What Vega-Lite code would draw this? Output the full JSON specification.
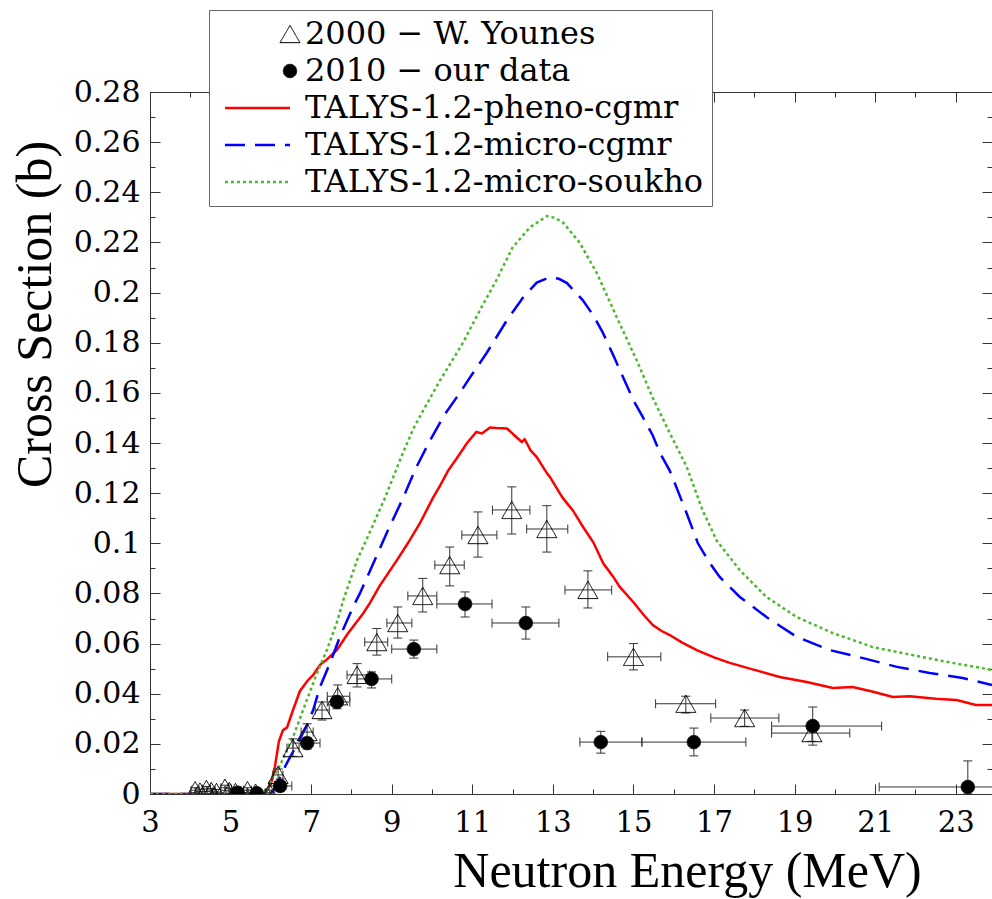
{
  "$schema": "https://vega.github.io/schema/vega-lite/v6.json",
  "width": 842,
  "height": 702,
  "autosize": {"type": "none"},
  "padding": {"left": 150, "top": 92, "right": 0, "bottom": 105},
  "config": {
    "font": "Liberation Serif",
    "view": {"stroke": null},
    "axis": {"domainColor": "#333", "tickColor": "#333", "tickWidth": 1, "grid": false, "labelColor": "black", "titleColor": "black", "titleFont": "Liberation Serif", "titleFontWeight": "normal"},
    "legend": {
      "orient": "none", "legendX": 59, "legendY": -82, "padding": 8,
      "strokeColor": "#666", "fillColor": "white",
      "labelFont": "DejaVu Serif", "labelFontSize": 32, "labelColor": "black",
      "labelLimit": 700, "rowPadding": 5, "labelOffset": -1, "symbolOffset": 57, "zindex": 5
    }
  },
  "datasets": {
    "curves": [
      {"s": "TALYS-1.2-pheno-cgmr", "E": 3.0, "xs": 0},
      {"s": "TALYS-1.2-pheno-cgmr", "E": 5.85, "xs": 0},
      {"s": "TALYS-1.2-pheno-cgmr", "E": 6.0, "xs": 0.004},
      {"s": "TALYS-1.2-pheno-cgmr", "E": 6.1, "xs": 0.0108},
      {"s": "TALYS-1.2-pheno-cgmr", "E": 6.2, "xs": 0.021},
      {"s": "TALYS-1.2-pheno-cgmr", "E": 6.3, "xs": 0.0255},
      {"s": "TALYS-1.2-pheno-cgmr", "E": 6.4, "xs": 0.0265},
      {"s": "TALYS-1.2-pheno-cgmr", "E": 6.55, "xs": 0.0335},
      {"s": "TALYS-1.2-pheno-cgmr", "E": 6.72, "xs": 0.041},
      {"s": "TALYS-1.2-pheno-cgmr", "E": 6.9, "xs": 0.045},
      {"s": "TALYS-1.2-pheno-cgmr", "E": 7.05, "xs": 0.0475},
      {"s": "TALYS-1.2-pheno-cgmr", "E": 7.22, "xs": 0.0515},
      {"s": "TALYS-1.2-pheno-cgmr", "E": 7.38, "xs": 0.0535},
      {"s": "TALYS-1.2-pheno-cgmr", "E": 7.64, "xs": 0.0575},
      {"s": "TALYS-1.2-pheno-cgmr", "E": 7.89, "xs": 0.0635},
      {"s": "TALYS-1.2-pheno-cgmr", "E": 8.1, "xs": 0.068},
      {"s": "TALYS-1.2-pheno-cgmr", "E": 8.29, "xs": 0.072},
      {"s": "TALYS-1.2-pheno-cgmr", "E": 8.46, "xs": 0.0762},
      {"s": "TALYS-1.2-pheno-cgmr", "E": 8.7, "xs": 0.083},
      {"s": "TALYS-1.2-pheno-cgmr", "E": 9.13, "xs": 0.0933},
      {"s": "TALYS-1.2-pheno-cgmr", "E": 9.4, "xs": 0.1},
      {"s": "TALYS-1.2-pheno-cgmr", "E": 9.7, "xs": 0.108},
      {"s": "TALYS-1.2-pheno-cgmr", "E": 10.02, "xs": 0.118},
      {"s": "TALYS-1.2-pheno-cgmr", "E": 10.2, "xs": 0.123},
      {"s": "TALYS-1.2-pheno-cgmr", "E": 10.4, "xs": 0.129},
      {"s": "TALYS-1.2-pheno-cgmr", "E": 10.62, "xs": 0.134},
      {"s": "TALYS-1.2-pheno-cgmr", "E": 10.87, "xs": 0.14},
      {"s": "TALYS-1.2-pheno-cgmr", "E": 11.1, "xs": 0.1444},
      {"s": "TALYS-1.2-pheno-cgmr", "E": 11.24, "xs": 0.1438},
      {"s": "TALYS-1.2-pheno-cgmr", "E": 11.44, "xs": 0.1462},
      {"s": "TALYS-1.2-pheno-cgmr", "E": 11.6, "xs": 0.146},
      {"s": "TALYS-1.2-pheno-cgmr", "E": 11.86, "xs": 0.1458},
      {"s": "TALYS-1.2-pheno-cgmr", "E": 12.05, "xs": 0.143},
      {"s": "TALYS-1.2-pheno-cgmr", "E": 12.23, "xs": 0.1404},
      {"s": "TALYS-1.2-pheno-cgmr", "E": 12.3, "xs": 0.1415},
      {"s": "TALYS-1.2-pheno-cgmr", "E": 12.45, "xs": 0.137},
      {"s": "TALYS-1.2-pheno-cgmr", "E": 12.6, "xs": 0.1344},
      {"s": "TALYS-1.2-pheno-cgmr", "E": 12.85, "xs": 0.128},
      {"s": "TALYS-1.2-pheno-cgmr", "E": 12.93, "xs": 0.1264},
      {"s": "TALYS-1.2-pheno-cgmr", "E": 13.17, "xs": 0.12},
      {"s": "TALYS-1.2-pheno-cgmr", "E": 13.25, "xs": 0.118},
      {"s": "TALYS-1.2-pheno-cgmr", "E": 13.5, "xs": 0.113},
      {"s": "TALYS-1.2-pheno-cgmr", "E": 13.75, "xs": 0.1065},
      {"s": "TALYS-1.2-pheno-cgmr", "E": 14.0, "xs": 0.1005},
      {"s": "TALYS-1.2-pheno-cgmr", "E": 14.25, "xs": 0.092},
      {"s": "TALYS-1.2-pheno-cgmr", "E": 14.5, "xs": 0.0866},
      {"s": "TALYS-1.2-pheno-cgmr", "E": 14.66, "xs": 0.0826},
      {"s": "TALYS-1.2-pheno-cgmr", "E": 15.0, "xs": 0.0765},
      {"s": "TALYS-1.2-pheno-cgmr", "E": 15.25, "xs": 0.0715},
      {"s": "TALYS-1.2-pheno-cgmr", "E": 15.48, "xs": 0.0674},
      {"s": "TALYS-1.2-pheno-cgmr", "E": 15.7, "xs": 0.065},
      {"s": "TALYS-1.2-pheno-cgmr", "E": 15.9, "xs": 0.0634},
      {"s": "TALYS-1.2-pheno-cgmr", "E": 16.2, "xs": 0.0605},
      {"s": "TALYS-1.2-pheno-cgmr", "E": 16.57, "xs": 0.0574},
      {"s": "TALYS-1.2-pheno-cgmr", "E": 17.0, "xs": 0.0545},
      {"s": "TALYS-1.2-pheno-cgmr", "E": 17.39, "xs": 0.0523},
      {"s": "TALYS-1.2-pheno-cgmr", "E": 18.0, "xs": 0.0495},
      {"s": "TALYS-1.2-pheno-cgmr", "E": 18.63, "xs": 0.0467},
      {"s": "TALYS-1.2-pheno-cgmr", "E": 19.3, "xs": 0.0447},
      {"s": "TALYS-1.2-pheno-cgmr", "E": 19.95, "xs": 0.0423},
      {"s": "TALYS-1.2-pheno-cgmr", "E": 20.44, "xs": 0.0427},
      {"s": "TALYS-1.2-pheno-cgmr", "E": 20.9, "xs": 0.041},
      {"s": "TALYS-1.2-pheno-cgmr", "E": 21.44, "xs": 0.0387},
      {"s": "TALYS-1.2-pheno-cgmr", "E": 21.86, "xs": 0.039},
      {"s": "TALYS-1.2-pheno-cgmr", "E": 22.5, "xs": 0.038},
      {"s": "TALYS-1.2-pheno-cgmr", "E": 23.02, "xs": 0.0375},
      {"s": "TALYS-1.2-pheno-cgmr", "E": 23.5, "xs": 0.0355},
      {"s": "TALYS-1.2-pheno-cgmr", "E": 23.9, "xs": 0.0355},

      {"s": "TALYS-1.2-micro-cgmr", "E": 3.0, "xs": 0},
      {"s": "TALYS-1.2-micro-cgmr", "E": 5.95, "xs": 0},
      {"s": "TALYS-1.2-micro-cgmr", "E": 6.05, "xs": 0.001},
      {"s": "TALYS-1.2-micro-cgmr", "E": 6.23, "xs": 0.0068},
      {"s": "TALYS-1.2-micro-cgmr", "E": 6.4, "xs": 0.0124},
      {"s": "TALYS-1.2-micro-cgmr", "E": 6.64, "xs": 0.0195},
      {"s": "TALYS-1.2-micro-cgmr", "E": 6.9, "xs": 0.0275},
      {"s": "TALYS-1.2-micro-cgmr", "E": 7.05, "xs": 0.0335},
      {"s": "TALYS-1.2-micro-cgmr", "E": 7.22, "xs": 0.0427},
      {"s": "TALYS-1.2-micro-cgmr", "E": 7.5, "xs": 0.0535},
      {"s": "TALYS-1.2-micro-cgmr", "E": 7.71, "xs": 0.0626},
      {"s": "TALYS-1.2-micro-cgmr", "E": 8.04, "xs": 0.0746},
      {"s": "TALYS-1.2-micro-cgmr", "E": 8.21, "xs": 0.08},
      {"s": "TALYS-1.2-micro-cgmr", "E": 8.58, "xs": 0.0933},
      {"s": "TALYS-1.2-micro-cgmr", "E": 8.9, "xs": 0.105},
      {"s": "TALYS-1.2-micro-cgmr", "E": 9.28, "xs": 0.118},
      {"s": "TALYS-1.2-micro-cgmr", "E": 9.6, "xs": 0.13},
      {"s": "TALYS-1.2-micro-cgmr", "E": 9.95, "xs": 0.141},
      {"s": "TALYS-1.2-micro-cgmr", "E": 10.3, "xs": 0.151},
      {"s": "TALYS-1.2-micro-cgmr", "E": 10.69, "xs": 0.16},
      {"s": "TALYS-1.2-micro-cgmr", "E": 11.0, "xs": 0.1675},
      {"s": "TALYS-1.2-micro-cgmr", "E": 11.36, "xs": 0.176},
      {"s": "TALYS-1.2-micro-cgmr", "E": 11.86, "xs": 0.189},
      {"s": "TALYS-1.2-micro-cgmr", "E": 12.26, "xs": 0.198},
      {"s": "TALYS-1.2-micro-cgmr", "E": 12.6, "xs": 0.204},
      {"s": "TALYS-1.2-micro-cgmr", "E": 12.93, "xs": 0.2062},
      {"s": "TALYS-1.2-micro-cgmr", "E": 13.15, "xs": 0.2055},
      {"s": "TALYS-1.2-micro-cgmr", "E": 13.35, "xs": 0.2038},
      {"s": "TALYS-1.2-micro-cgmr", "E": 13.74, "xs": 0.197},
      {"s": "TALYS-1.2-micro-cgmr", "E": 14.0, "xs": 0.191},
      {"s": "TALYS-1.2-micro-cgmr", "E": 14.24, "xs": 0.184},
      {"s": "TALYS-1.2-micro-cgmr", "E": 14.5, "xs": 0.175},
      {"s": "TALYS-1.2-micro-cgmr", "E": 14.74, "xs": 0.1663},
      {"s": "TALYS-1.2-micro-cgmr", "E": 15.0, "xs": 0.157},
      {"s": "TALYS-1.2-micro-cgmr", "E": 15.23, "xs": 0.1504},
      {"s": "TALYS-1.2-micro-cgmr", "E": 15.48, "xs": 0.143},
      {"s": "TALYS-1.2-micro-cgmr", "E": 15.66, "xs": 0.136},
      {"s": "TALYS-1.2-micro-cgmr", "E": 15.9, "xs": 0.129},
      {"s": "TALYS-1.2-micro-cgmr", "E": 16.1, "xs": 0.121},
      {"s": "TALYS-1.2-micro-cgmr", "E": 16.32, "xs": 0.112},
      {"s": "TALYS-1.2-micro-cgmr", "E": 16.6, "xs": 0.1},
      {"s": "TALYS-1.2-micro-cgmr", "E": 16.9, "xs": 0.092},
      {"s": "TALYS-1.2-micro-cgmr", "E": 17.14, "xs": 0.0866},
      {"s": "TALYS-1.2-micro-cgmr", "E": 17.64, "xs": 0.0786},
      {"s": "TALYS-1.2-micro-cgmr", "E": 18.3, "xs": 0.0706},
      {"s": "TALYS-1.2-micro-cgmr", "E": 19.05, "xs": 0.0627},
      {"s": "TALYS-1.2-micro-cgmr", "E": 19.87, "xs": 0.0574},
      {"s": "TALYS-1.2-micro-cgmr", "E": 20.7, "xs": 0.0542},
      {"s": "TALYS-1.2-micro-cgmr", "E": 21.54, "xs": 0.0507},
      {"s": "TALYS-1.2-micro-cgmr", "E": 22.35, "xs": 0.0483},
      {"s": "TALYS-1.2-micro-cgmr", "E": 23.17, "xs": 0.0463},
      {"s": "TALYS-1.2-micro-cgmr", "E": 23.9, "xs": 0.0435},

      {"s": "TALYS-1.2-micro-soukho", "E": 3.0, "xs": 0},
      {"s": "TALYS-1.2-micro-soukho", "E": 5.85, "xs": 0},
      {"s": "TALYS-1.2-micro-soukho", "E": 6.05, "xs": 0.0068},
      {"s": "TALYS-1.2-micro-soukho", "E": 6.23, "xs": 0.0115},
      {"s": "TALYS-1.2-micro-soukho", "E": 6.47, "xs": 0.0203},
      {"s": "TALYS-1.2-micro-soukho", "E": 6.55, "xs": 0.0227},
      {"s": "TALYS-1.2-micro-soukho", "E": 6.8, "xs": 0.0335},
      {"s": "TALYS-1.2-micro-soukho", "E": 7.14, "xs": 0.048},
      {"s": "TALYS-1.2-micro-soukho", "E": 7.39, "xs": 0.0574},
      {"s": "TALYS-1.2-micro-soukho", "E": 7.64, "xs": 0.0685},
      {"s": "TALYS-1.2-micro-soukho", "E": 7.8, "xs": 0.0774},
      {"s": "TALYS-1.2-micro-soukho", "E": 8.14, "xs": 0.0933},
      {"s": "TALYS-1.2-micro-soukho", "E": 8.5, "xs": 0.106},
      {"s": "TALYS-1.2-micro-soukho", "E": 8.83, "xs": 0.118},
      {"s": "TALYS-1.2-micro-soukho", "E": 9.2, "xs": 0.133},
      {"s": "TALYS-1.2-micro-soukho", "E": 9.53, "xs": 0.1455},
      {"s": "TALYS-1.2-micro-soukho", "E": 9.85, "xs": 0.155},
      {"s": "TALYS-1.2-micro-soukho", "E": 10.2, "xs": 0.165},
      {"s": "TALYS-1.2-micro-soukho", "E": 10.77, "xs": 0.18},
      {"s": "TALYS-1.2-micro-soukho", "E": 11.19, "xs": 0.193},
      {"s": "TALYS-1.2-micro-soukho", "E": 11.6, "xs": 0.205},
      {"s": "TALYS-1.2-micro-soukho", "E": 12.0, "xs": 0.218},
      {"s": "TALYS-1.2-micro-soukho", "E": 12.43, "xs": 0.226},
      {"s": "TALYS-1.2-micro-soukho", "E": 12.85, "xs": 0.2305},
      {"s": "TALYS-1.2-micro-soukho", "E": 13.05, "xs": 0.2298},
      {"s": "TALYS-1.2-micro-soukho", "E": 13.25, "xs": 0.228},
      {"s": "TALYS-1.2-micro-soukho", "E": 13.67, "xs": 0.2198},
      {"s": "TALYS-1.2-micro-soukho", "E": 14.09, "xs": 0.2078},
      {"s": "TALYS-1.2-micro-soukho", "E": 14.59, "xs": 0.19},
      {"s": "TALYS-1.2-micro-soukho", "E": 15.08, "xs": 0.173},
      {"s": "TALYS-1.2-micro-soukho", "E": 15.48, "xs": 0.158},
      {"s": "TALYS-1.2-micro-soukho", "E": 15.9, "xs": 0.144},
      {"s": "TALYS-1.2-micro-soukho", "E": 16.32, "xs": 0.1305},
      {"s": "TALYS-1.2-micro-soukho", "E": 16.72, "xs": 0.113},
      {"s": "TALYS-1.2-micro-soukho", "E": 17.07, "xs": 0.101},
      {"s": "TALYS-1.2-micro-soukho", "E": 17.64, "xs": 0.0893},
      {"s": "TALYS-1.2-micro-soukho", "E": 18.3, "xs": 0.0786},
      {"s": "TALYS-1.2-micro-soukho", "E": 19.05, "xs": 0.0706},
      {"s": "TALYS-1.2-micro-soukho", "E": 19.95, "xs": 0.0642},
      {"s": "TALYS-1.2-micro-soukho", "E": 20.94, "xs": 0.0586},
      {"s": "TALYS-1.2-micro-soukho", "E": 21.93, "xs": 0.0554},
      {"s": "TALYS-1.2-micro-soukho", "E": 22.78, "xs": 0.0527},
      {"s": "TALYS-1.2-micro-soukho", "E": 23.9, "xs": 0.0495}
    ],
    "points": [
      {"s": "2000 − W. Younes", "E": 4.12, "xs": 0.0015, "xlo": 4.02, "xhi": 4.22, "elo": 0.0005, "ehi": 0.0025},
      {"s": "2000 − W. Younes", "E": 4.24, "xs": 0.001, "xlo": 4.14, "xhi": 4.34, "elo": 0.0, "ehi": 0.002},
      {"s": "2000 − W. Younes", "E": 4.4, "xs": 0.002, "xlo": 4.3, "xhi": 4.5, "elo": 0.001, "ehi": 0.003},
      {"s": "2000 − W. Younes", "E": 4.52, "xs": 0.0012, "xlo": 4.42, "xhi": 4.62, "elo": 0.0002, "ehi": 0.0022},
      {"s": "2000 − W. Younes", "E": 4.65, "xs": 0.0008, "xlo": 4.55, "xhi": 4.75, "elo": 0.0, "ehi": 0.0018},
      {"s": "2000 − W. Younes", "E": 4.86, "xs": 0.0025, "xlo": 4.76, "xhi": 4.96, "elo": 0.0015, "ehi": 0.0035},
      {"s": "2000 − W. Younes", "E": 4.97, "xs": 0.0012, "xlo": 4.87, "xhi": 5.07, "elo": 0.0002, "ehi": 0.0022},
      {"s": "2000 − W. Younes", "E": 5.12, "xs": 0.0008, "xlo": 5.02, "xhi": 5.22, "elo": 0.0, "ehi": 0.0018},
      {"s": "2000 − W. Younes", "E": 5.42, "xs": 0.0015, "xlo": 5.32, "xhi": 5.52, "elo": 0.0005, "ehi": 0.0025},
      {"s": "2000 − W. Younes", "E": 5.62, "xs": 0.0005, "xlo": 5.52, "xhi": 5.72, "elo": 0.0, "ehi": 0.0015},
      {"s": "2000 − W. Younes", "E": 5.97, "xs": 0.0005, "xlo": 5.87, "xhi": 6.07, "elo": 0.0, "ehi": 0.0015},
      {"s": "2000 − W. Younes", "E": 6.18, "xs": 0.0076, "xlo": 6.05, "xhi": 6.3, "elo": 0.005, "ehi": 0.01},
      {"s": "2000 − W. Younes", "E": 6.55, "xs": 0.0183, "xlo": 6.4, "xhi": 6.7, "elo": 0.015, "ehi": 0.022},
      {"s": "2000 − W. Younes", "E": 6.9, "xs": 0.0247, "xlo": 6.75, "xhi": 7.05, "elo": 0.021, "ehi": 0.028},
      {"s": "2000 − W. Younes", "E": 7.27, "xs": 0.0335, "xlo": 7.1, "xhi": 7.45, "elo": 0.0295, "ehi": 0.0367},
      {"s": "2000 − W. Younes", "E": 7.66, "xs": 0.039, "xlo": 7.4, "xhi": 7.96, "elo": 0.0363, "ehi": 0.0435},
      {"s": "2000 − W. Younes", "E": 8.14, "xs": 0.0475, "xlo": 7.89, "xhi": 8.45, "elo": 0.0427, "ehi": 0.052},
      {"s": "2000 − W. Younes", "E": 8.63, "xs": 0.0606, "xlo": 8.33, "xhi": 8.9, "elo": 0.0554, "ehi": 0.066},
      {"s": "2000 − W. Younes", "E": 9.15, "xs": 0.0682, "xlo": 8.88, "xhi": 9.5, "elo": 0.0622, "ehi": 0.0746},
      {"s": "2000 − W. Younes", "E": 9.77, "xs": 0.079, "xlo": 9.4, "xhi": 10.12, "elo": 0.0726, "ehi": 0.086},
      {"s": "2000 − W. Younes", "E": 10.44, "xs": 0.0913, "xlo": 10.07, "xhi": 10.8, "elo": 0.083, "ehi": 0.0985},
      {"s": "2000 − W. Younes", "E": 11.14, "xs": 0.1033, "xlo": 10.74, "xhi": 11.61, "elo": 0.0945, "ehi": 0.1125},
      {"s": "2000 − W. Younes", "E": 11.98, "xs": 0.1133, "xlo": 11.5, "xhi": 12.43, "elo": 0.1037, "ehi": 0.1225},
      {"s": "2000 − W. Younes", "E": 12.85, "xs": 0.1057, "xlo": 12.35, "xhi": 13.37, "elo": 0.0965, "ehi": 0.115},
      {"s": "2000 − W. Younes", "E": 13.87, "xs": 0.0814, "xlo": 13.3, "xhi": 14.46, "elo": 0.0742, "ehi": 0.089},
      {"s": "2000 − W. Younes", "E": 15.0, "xs": 0.0547, "xlo": 14.36, "xhi": 15.68, "elo": 0.0495, "ehi": 0.06},
      {"s": "2000 − W. Younes", "E": 16.3, "xs": 0.036, "xlo": 15.55, "xhi": 17.04, "elo": 0.0323, "ehi": 0.039},
      {"s": "2000 − W. Younes", "E": 17.76, "xs": 0.0303, "xlo": 16.92, "xhi": 18.61, "elo": 0.027, "ehi": 0.0335},
      {"s": "2000 − W. Younes", "E": 19.43, "xs": 0.0243, "xlo": 18.43, "xhi": 20.37, "elo": 0.021, "ehi": 0.028},
      {"s": "2010 − our data", "E": 5.18, "xs": 0.0005, "xlo": 5.0, "xhi": 5.4, "elo": 0.0, "ehi": 0.0015},
      {"s": "2010 − our data", "E": 5.65, "xs": 0.0003, "xlo": 5.45, "xhi": 5.85, "elo": 0.0, "ehi": 0.0013},
      {"s": "2010 − our data", "E": 6.23, "xs": 0.0032, "xlo": 5.95, "xhi": 6.52, "elo": 0.001, "ehi": 0.006},
      {"s": "2010 − our data", "E": 6.9, "xs": 0.0203, "xlo": 6.55, "xhi": 7.22, "elo": 0.018, "ehi": 0.0225},
      {"s": "2010 − our data", "E": 7.64, "xs": 0.0367, "xlo": 7.4, "xhi": 7.96, "elo": 0.034, "ehi": 0.039},
      {"s": "2010 − our data", "E": 8.5, "xs": 0.0459, "xlo": 8.14, "xhi": 9.0, "elo": 0.0423, "ehi": 0.0487},
      {"s": "2010 − our data", "E": 9.55, "xs": 0.0578, "xlo": 9.0, "xhi": 10.12, "elo": 0.0542, "ehi": 0.0614},
      {"s": "2010 − our data", "E": 10.82, "xs": 0.0758, "xlo": 10.12, "xhi": 11.49, "elo": 0.0706, "ehi": 0.0806},
      {"s": "2010 − our data", "E": 12.33, "xs": 0.0682, "xlo": 11.49, "xhi": 13.15, "elo": 0.0618, "ehi": 0.0746},
      {"s": "2010 − our data", "E": 14.19, "xs": 0.0207, "xlo": 13.67, "xhi": 15.21, "elo": 0.0163, "ehi": 0.025},
      {"s": "2010 − our data", "E": 16.5, "xs": 0.0207, "xlo": 15.21, "xhi": 17.79, "elo": 0.0152, "ehi": 0.0263},
      {"s": "2010 − our data", "E": 19.45, "xs": 0.0271, "xlo": 18.43, "xhi": 21.16, "elo": 0.0195, "ehi": 0.0347},
      {"s": "2010 − our data", "E": 23.3, "xs": 0.0028, "xlo": 21.1, "xhi": 25.5, "elo": 0.0, "ehi": 0.0132}
    ]
  },
  "resolve": {"axis": {"x": "independent", "y": "independent"}},
  "layer": [
    {
      "data": {"name": "curves"},
      "transform": [{"filter": "datum.s === 'TALYS-1.2-pheno-cgmr'"}],
      "mark": {"type": "line", "clip": true, "color": "#ff0000", "strokeWidth": 2.5},
      "encoding": {
        "x": {"field": "E", "type": "quantitative",
          "scale": {"domain": [3, 23.9], "nice": false, "zero": false},
          "axis": {"orient": "bottom", "values": [3,4,5,6,7,8,9,10,11,12,13,14,15,16,17,18,19,20,21,22,23],
            "format": "d", "labelExpr": "datum.value % 2 === 1 ? datum.label : ''",
            "tickSize": {"condition": {"test": "datum.value % 2 === 1", "value": -10}, "value": -5},
            "labelPadding": 24, "labelFont": "DejaVu Serif", "labelFontSize": 29, "labelFlush": false, "labelOverlap": false,
            "title": "Neutron Energy (MeV)", "titleFont": "Liberation Serif", "titleFontSize": 50, "titleX": 537, "titleY": 92, "titleBaseline": "alphabetic", "titleAlign": "center"}},
        "y": {"field": "xs", "type": "quantitative",
          "scale": {"domain": [0, 0.28], "nice": false, "zero": false},
          "axis": {"orient": "left", "values": [0,0.01,0.02,0.03,0.04,0.05,0.06,0.07,0.08,0.09,0.1,0.11,0.12,0.13,0.14,0.15,0.16,0.17,0.18,0.19,0.2,0.21,0.22,0.23,0.24,0.25,0.26,0.27,0.28],
            "format": "~g", "labelExpr": "round(datum.value*100) % 2 === 0 ? datum.label : ''",
            "tickSize": {"condition": {"test": "round(datum.value*100) % 2 === 0", "value": -10}, "value": -5},
            "labelPadding": 20, "labelFont": "DejaVu Serif", "labelFontSize": 30, "labelFlush": false, "labelOverlap": false,
            "title": "Cross Section (b)", "titleFont": "Liberation Serif", "titleFontSize": 50, "titleX": -100, "titleY": 222, "titleBaseline": "alphabetic", "titleAlign": "center", "titleAngle": -90}}
      }
    },
    {
      "data": {"name": "curves"},
      "transform": [{"filter": "datum.s === 'TALYS-1.2-micro-cgmr'"}],
      "mark": {"type": "line", "clip": true, "color": "#0000ff", "strokeWidth": 2.5, "strokeDash": [20, 10]},
      "encoding": {
        "x": {"field": "E", "type": "quantitative", "axis": null},
        "y": {"field": "xs", "type": "quantitative", "axis": null}
      }
    },
    {
      "data": {"name": "curves"},
      "transform": [{"filter": "datum.s === 'TALYS-1.2-micro-soukho'"}],
      "mark": {"type": "line", "clip": true, "color": "#4cb82c", "strokeWidth": 2.5, "strokeDash": [3, 3]},
      "encoding": {
        "x": {"field": "E", "type": "quantitative", "axis": null},
        "y": {"field": "xs", "type": "quantitative", "axis": null}
      }
    },
    {
      "data": {"name": "points"},
      "mark": {"type": "rule", "color": "#333", "strokeWidth": 1, "clip": true},
      "encoding": {
        "x": {"field": "xlo", "type": "quantitative",
          "axis": {"orient": "top", "values": [3,4,5,6,7,8,9,10,11,12,13,14,15,16,17,18,19,20,21,22,23],
            "labels": false, "title": null,
            "tickSize": {"condition": {"test": "datum.value % 2 === 1", "value": -10}, "value": -5}}},
        "x2": {"field": "xhi"},
        "y": {"field": "xs", "type": "quantitative",
          "axis": {"orient": "right", "values": [0,0.01,0.02,0.03,0.04,0.05,0.06,0.07,0.08,0.09,0.1,0.11,0.12,0.13,0.14,0.15,0.16,0.17,0.18,0.19,0.2,0.21,0.22,0.23,0.24,0.25,0.26,0.27,0.28],
            "labels": false, "title": null,
            "tickSize": {"condition": {"test": "round(datum.value*100) % 2 === 0", "value": -10}, "value": -5}}}
      }
    },
    {
      "data": {"name": "points"},
      "mark": {"type": "rule", "color": "#333", "strokeWidth": 1, "clip": true},
      "encoding": {
        "x": {"field": "E", "type": "quantitative", "axis": null},
        "y": {"field": "elo", "type": "quantitative", "axis": null},
        "y2": {"field": "ehi"}
      }
    },
    {
      "data": {"name": "points"},
      "transform": [{"fold": ["xlo", "xhi"], "as": ["k", "xv"]}],
      "mark": {"type": "tick", "orient": "vertical", "size": 9, "thickness": 1, "color": "#333", "opacity": 1, "clip": true},
      "encoding": {
        "x": {"field": "xv", "type": "quantitative", "axis": null},
        "y": {"field": "xs", "type": "quantitative", "axis": null}
      }
    },
    {
      "data": {"name": "points"},
      "transform": [{"fold": ["elo", "ehi"], "as": ["k", "yv"]}],
      "mark": {"type": "tick", "orient": "horizontal", "size": 9, "thickness": 1, "color": "#333", "opacity": 1, "clip": true},
      "encoding": {
        "x": {"field": "E", "type": "quantitative", "axis": null},
        "y": {"field": "yv", "type": "quantitative", "axis": null}
      }
    },
    {
      "data": {"name": "points"},
      "mark": {"type": "point", "opacity": 1, "clip": true},
      "encoding": {
        "x": {"field": "E", "type": "quantitative", "axis": null},
        "y": {"field": "xs", "type": "quantitative", "axis": null},
        "shape": {"field": "s", "type": "nominal", "title": null,
          "scale": {"domain": ["2000 − W. Younes", "2010 − our data", "TALYS-1.2-pheno-cgmr", "TALYS-1.2-micro-cgmr", "TALYS-1.2-micro-soukho"],
            "range": ["triangle-up", "circle", "M-6.5,0L0,0", "M-6.5,0L0,0", "M-6.5,0L0,0"]}},
        "size": {"field": "s", "type": "nominal", "title": null,
          "scale": {"type": "ordinal", "domain": ["2000 − W. Younes", "2010 − our data", "TALYS-1.2-pheno-cgmr", "TALYS-1.2-micro-cgmr", "TALYS-1.2-micro-soukho"],
            "range": [400, 180, 400, 400, 400]}},
        "stroke": {"field": "s", "type": "nominal", "title": null,
          "scale": {"domain": ["2000 − W. Younes", "2010 − our data", "TALYS-1.2-pheno-cgmr", "TALYS-1.2-micro-cgmr", "TALYS-1.2-micro-soukho"],
            "range": ["black", "black", "#ff0000", "#0000ff", "#4cb82c"]}},
        "fill": {"field": "s", "type": "nominal", "title": null,
          "scale": {"domain": ["2000 − W. Younes", "2010 − our data", "TALYS-1.2-pheno-cgmr", "TALYS-1.2-micro-cgmr", "TALYS-1.2-micro-soukho"],
            "range": ["transparent", "black", "transparent", "transparent", "transparent"]}},
        "strokeDash": {"field": "s", "type": "nominal", "title": null,
          "scale": {"domain": ["2000 − W. Younes", "2010 − our data", "TALYS-1.2-pheno-cgmr", "TALYS-1.2-micro-cgmr", "TALYS-1.2-micro-soukho"],
            "range": [[1, 0], [1, 0], [1, 0], [20, 10], [3, 3]]}},
        "strokeWidth": {"field": "s", "type": "nominal", "title": null,
          "scale": {"type": "ordinal", "domain": ["2000 − W. Younes", "2010 − our data", "TALYS-1.2-pheno-cgmr", "TALYS-1.2-micro-cgmr", "TALYS-1.2-micro-soukho"],
            "range": [1, 1, 2.5, 2.5, 2.5]}}
      }
    }
  ]
}
